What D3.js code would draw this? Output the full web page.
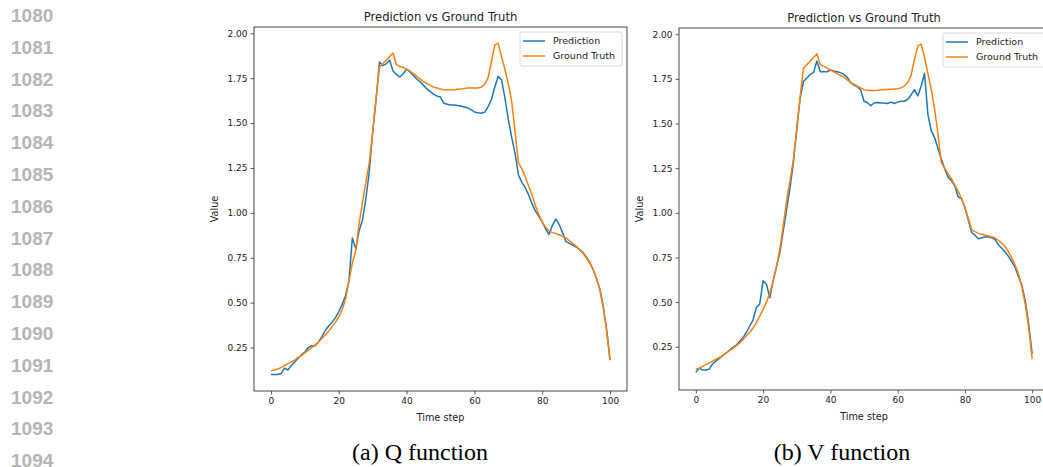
<!DOCTYPE html>
<html>
<head>
<meta charset="utf-8">
<script src="https://cdn.jsdelivr.net/npm/d3@7"></script>
<style>
  html, body { margin: 0; padding: 0; background: #fff; overflow: hidden; }
  svg { display: block; }
</style>
</head>
<body>
<svg id="page"></svg>
<script>
// Time steps 0..100 shared by both panels
const steps = d3.range(0, 101);

// (a) Q function
const qPrediction = [
  0.10, 0.10, 0.10, 0.105, 0.135, 0.125, 0.15, 0.17, 0.19, 0.21,
  0.225, 0.25, 0.26, 0.26, 0.28, 0.31, 0.345, 0.37, 0.39, 0.415,
  0.45, 0.49, 0.54, 0.62, 0.86, 0.80, 0.90, 0.96, 1.08, 1.23,
  1.45, 1.63, 1.84, 1.82, 1.83, 1.85, 1.79, 1.77, 1.757, 1.775,
  1.80, 1.785, 1.765, 1.745, 1.73, 1.71, 1.69, 1.675, 1.66, 1.65,
  1.645, 1.61, 1.605, 1.60, 1.60, 1.598, 1.595, 1.59, 1.585, 1.575,
  1.562, 1.558, 1.555, 1.56, 1.59, 1.63, 1.70, 1.76, 1.74, 1.64,
  1.52, 1.42, 1.33, 1.21, 1.17, 1.14, 1.10, 1.05, 1.01, 0.98,
  0.95, 0.91, 0.88, 0.93, 0.965, 0.935, 0.89, 0.84, 0.83, 0.82,
  0.81, 0.795, 0.78, 0.755, 0.725, 0.685, 0.635, 0.575, 0.48, 0.35,
  0.18
];
const qGroundTruth = [
  0.12, 0.125, 0.13, 0.14, 0.15, 0.16, 0.17, 0.18, 0.195, 0.205,
  0.22, 0.235, 0.25, 0.265, 0.28, 0.30, 0.32, 0.34, 0.365, 0.39,
  0.42, 0.46, 0.52, 0.62, 0.72, 0.79, 0.94, 1.06, 1.17, 1.28,
  1.45, 1.64, 1.81, 1.83, 1.85, 1.87, 1.89, 1.825, 1.815, 1.81,
  1.80, 1.79, 1.775, 1.76, 1.745, 1.73, 1.72, 1.71, 1.70, 1.695,
  1.69, 1.685, 1.685, 1.685, 1.685, 1.688, 1.69, 1.693, 1.695, 1.695,
  1.695, 1.695, 1.70, 1.715, 1.75, 1.84, 1.935, 1.945, 1.87, 1.80,
  1.72, 1.62, 1.45, 1.28, 1.245, 1.20, 1.15, 1.10, 1.04, 0.99,
  0.95, 0.92, 0.90, 0.89, 0.885, 0.878, 0.87, 0.86, 0.845, 0.83,
  0.815, 0.795, 0.775, 0.75, 0.72, 0.685, 0.635, 0.57, 0.47, 0.34,
  0.18
];

// (b) V function
const vPrediction = [
  0.107, 0.13, 0.12, 0.12, 0.125, 0.155, 0.17, 0.185, 0.20, 0.215,
  0.23, 0.245, 0.26, 0.28, 0.30, 0.33, 0.365, 0.40, 0.47, 0.49,
  0.62, 0.60, 0.525, 0.62, 0.70, 0.78, 0.90, 1.02, 1.14, 1.28,
  1.47, 1.64, 1.735, 1.755, 1.775, 1.785, 1.85, 1.79, 1.79, 1.79,
  1.80, 1.795, 1.79, 1.785, 1.775, 1.76, 1.73, 1.715, 1.705, 1.69,
  1.625, 1.618, 1.60, 1.615, 1.618, 1.615, 1.615, 1.612, 1.62, 1.612,
  1.62, 1.625, 1.625, 1.635, 1.66, 1.69, 1.655, 1.71, 1.78, 1.55,
  1.46, 1.42, 1.36, 1.30, 1.245, 1.20, 1.18, 1.15, 1.09, 1.08,
  1.03, 0.96, 0.89, 0.875, 0.855, 0.86, 0.865, 0.866, 0.86, 0.85,
  0.82, 0.80, 0.78, 0.755, 0.725, 0.69, 0.64, 0.59, 0.50, 0.37,
  0.21
];
const vGroundTruth = [
  0.125, 0.13, 0.14, 0.15, 0.16, 0.17, 0.18, 0.19, 0.20, 0.215,
  0.228, 0.24, 0.255, 0.27, 0.29, 0.31, 0.33, 0.355, 0.385, 0.42,
  0.46, 0.50, 0.55, 0.62, 0.70, 0.80, 0.93, 1.07, 1.18, 1.30,
  1.46, 1.65, 1.81, 1.83, 1.85, 1.87, 1.89, 1.83, 1.82, 1.81,
  1.80, 1.79, 1.78, 1.77, 1.76, 1.745, 1.73, 1.72, 1.71, 1.70,
  1.69, 1.686, 1.685, 1.685, 1.686, 1.688, 1.69, 1.69, 1.692, 1.693,
  1.694, 1.70, 1.71, 1.73, 1.77, 1.86, 1.935, 1.945, 1.87, 1.78,
  1.69, 1.58, 1.44, 1.28, 1.25, 1.22, 1.19, 1.155, 1.12, 1.08,
  1.03, 0.97, 0.905, 0.895, 0.885, 0.88, 0.875, 0.87, 0.865, 0.86,
  0.845, 0.83, 0.81, 0.78, 0.745, 0.705, 0.655, 0.58, 0.48, 0.35,
  0.18
];

const xTicks = [0, 20, 40, 60, 80, 100];
const yTicks = [0.25, 0.50, 0.75, 1.00, 1.25, 1.50, 1.75, 2.00];
const seriesNames = ["Prediction", "Ground Truth"];
const lineNumbers = d3.range(1080, 1095);
const captions = ["(a) Q function", "(b) V function"];

const width = 1043, height = 467;
const blue = "#1f77b4", orange = "#ff7f0e";

const svg = d3.select("#page")
    .attr("width", width)
    .attr("height", height);

// margin line numbers of the paper
svg.append("g")
  .selectAll("text")
  .data(lineNumbers)
  .join("text")
    .attr("x", 11)
    .attr("y", (d, i) => 22 + i * 31.8)
    .attr("fill", "#b5b5b5")
    .style("font", "bold 19px 'Liberation Sans', Arial, sans-serif")
    .text(d => d);

// one matplotlib-like panel
function drawPanel(box, pred, truth, caption) {
  const x = d3.scaleLinear().domain([-5, 105]).range([box.left, box.right]);
  const y = d3.scaleLinear().domain([0.008, 2.035]).range([box.bottom, box.top]);
  const g = svg.append("g").style("font-family", "'DejaVu Sans', sans-serif");

  const line = d3.line().x((d, i) => x(steps[i])).y(d => y(d));
  g.append("path").datum(pred)
      .attr("fill", "none").attr("stroke", blue).attr("stroke-width", 1.5)
      .attr("stroke-linejoin", "round").attr("d", line);
  g.append("path").datum(truth)
      .attr("fill", "none").attr("stroke", orange).attr("stroke-width", 1.5)
      .attr("stroke-linejoin", "round").attr("d", line);

  // axes
  const xAxis = g.append("g")
      .attr("transform", `translate(0,${box.bottom})`)
      .call(d3.axisBottom(x).tickValues(xTicks).tickSize(3.5).tickPadding(3).tickFormat(d3.format("d")));
  const yAxis = g.append("g")
      .attr("transform", `translate(${box.left},0)`)
      .call(d3.axisLeft(y).tickValues(yTicks).tickSize(3.5).tickPadding(3).tickFormat(d3.format(".2f")));
  [xAxis, yAxis].forEach(a => {
    a.select(".domain").remove();
    a.selectAll("line").attr("stroke", "#333").attr("stroke-width", 0.8);
    a.selectAll("text").attr("fill", "#222").style("font-size", "9px").style("font-family", "'DejaVu Sans', sans-serif");
  });

  // frame
  g.append("rect")
      .attr("x", box.left).attr("y", box.top)
      .attr("width", box.right - box.left).attr("height", box.bottom - box.top)
      .attr("fill", "none").attr("stroke", "#333").attr("stroke-width", 0.9);

  const cx = (box.left + box.right) / 2;
  g.append("text")
      .attr("x", cx).attr("y", box.top - 6)
      .attr("text-anchor", "middle").attr("fill", "#222")
      .style("font-size", "11.6px")
      .text("Prediction vs Ground Truth");
  g.append("text")
      .attr("x", cx).attr("y", box.bottom + 30)
      .attr("text-anchor", "middle").attr("fill", "#222")
      .style("font-size", "9.7px")
      .text("Time step");
  g.append("text")
      .attr("transform", `translate(${box.left - 36},${(box.top + box.bottom) / 2}) rotate(-90)`)
      .attr("text-anchor", "middle").attr("fill", "#222")
      .style("font-size", "9.7px")
      .text("Value");

  // legend
  const lg = g.append("g").attr("transform", `translate(${box.legendX},${box.top + 5})`);
  lg.append("rect")
      .attr("width", 102).attr("height", 34).attr("rx", 2)
      .attr("fill", "#fff").attr("fill-opacity", 0.8)
      .attr("stroke", "#d0d0d0").attr("stroke-width", 0.8);
  lg.selectAll("g.item")
    .data(seriesNames)
    .join("g")
      .attr("class", "item")
      .attr("transform", (d, i) => `translate(0,${9 + i * 15})`)
      .each(function(d, i) {
        const it = d3.select(this);
        it.append("line").attr("x1", 3).attr("x2", 25)
            .attr("stroke", i === 0 ? blue : orange).attr("stroke-width", 1.5);
        it.append("text").attr("x", 33).attr("dy", "0.35em")
            .attr("fill", "#222").style("font-size", "9.5px").text(d);
      });

  // subfigure caption
  svg.append("text")
      .attr("x", box.captionX).attr("y", 460)
      .attr("text-anchor", "middle").attr("fill", "#000")
      .style("font", "24px 'Liberation Serif', 'Times New Roman', serif")
      .text(caption);
}

drawPanel({left: 254, right: 627, top: 27, bottom: 391, legendX: 520, captionX: 420},
          qPrediction, qGroundTruth, captions[0]);
drawPanel({left: 679, right: 1049, top: 28, bottom: 390, legendX: 943, captionX: 842},
          vPrediction, vGroundTruth, captions[1]);
</script>
</body>
</html>
